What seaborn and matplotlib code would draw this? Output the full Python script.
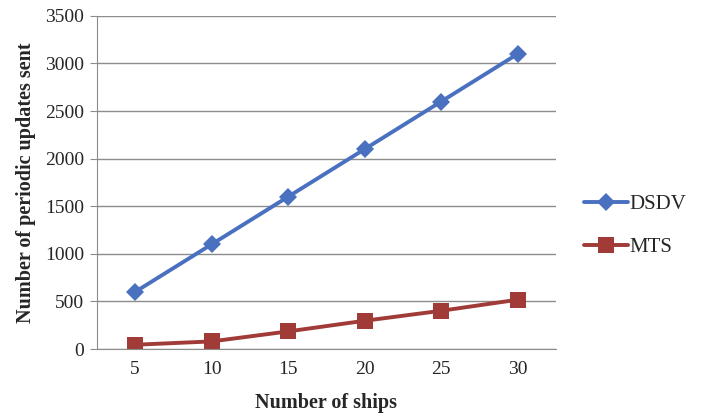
import seaborn as sns
import pandas as pd
import matplotlib.pyplot as plt

ships = ["5", "10", "15", "20", "25", "30"]
dsdv = [600, 1100, 1600, 2100, 2600, 3100]
mts = [45, 80, 185, 297, 402, 518]

data = pd.DataFrame({
    "ships": ships * 2,
    "updates": dsdv + mts,
    "protocol": ["DSDV"] * 6 + ["MTS"] * 6,
})

sns.set_style("white")
plt.rcParams["font.family"] = ["Liberation Serif", "DejaVu Serif"]

fig = plt.figure(figsize=(7.02, 4.17), dpi=100)
ax = fig.add_axes([0.138, 0.163, 0.654, 0.799])

palette = {"DSDV": "#4A70C0", "MTS": "#A03B38"}
sns.lineplot(data=data, x="ships", y="updates", hue="protocol", style="protocol",
             markers={"DSDV": "D", "MTS": "s"}, dashes=False, palette=palette,
             linewidth=2.8, markersize=9, markeredgewidth=0, sort=False, ax=ax)
for line in ax.lines:
    if line.get_marker() == "D":
        line.set_markersize(9)
    elif line.get_marker() == "s":
        line.set_markersize(12)

ax.set_xlim(-0.5, 5.5)
ax.set_ylim(0, 3500)
ax.set_yticks(range(0, 3501, 500))
ax.yaxis.grid(True, color="#8c8c8c", linewidth=1)
ax.set_axisbelow(True)
for s in ["top", "right"]:
    ax.spines[s].set_visible(False)
ax.spines["left"].set_color("#8c8c8c")
ax.spines["bottom"].set_color("#8c8c8c")
ax.tick_params(axis="y", left=True, length=5, color="#8c8c8c", labelsize=14, pad=4)
ax.tick_params(axis="x", bottom=False, labelsize=14, pad=5)

ax.set_xlabel("Number of ships", fontsize=14.5, fontweight="bold", labelpad=11)
ax.set_ylabel("Number of periodic updates sent", fontsize=14.5, fontweight="bold", labelpad=7)

handles, labels = ax.get_legend_handles_labels()
ax.legend(handles, labels, loc="center left", bbox_to_anchor=(1.02, 0.37),
          frameon=False, fontsize=15, handlelength=2.1, labelspacing=1.1,
          handletextpad=0.1)

fig.savefig("out.png", dpi=100)
